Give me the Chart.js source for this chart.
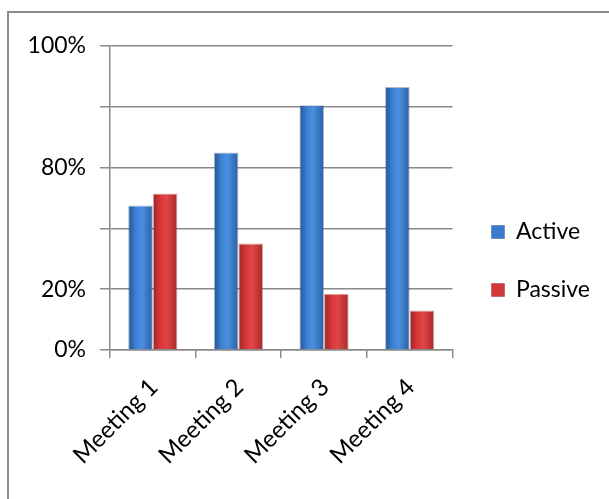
<!DOCTYPE html>
<html>
<head>
<meta charset="utf-8">
<script src="https://cdn.jsdelivr.net/npm/chart.js@4"></script>
<style>
  html, body { margin: 0; padding: 0; background: #fff; overflow: hidden; width: 609px; height: 499px; }
  #frame { position: absolute; left: 7px; top: 11px; width: 700px; height: 600px; border: 2px solid #8c8c8c; box-sizing: border-box; }
  #wrap { position: absolute; left: 0; top: 0; width: 609px; height: 499px; }
</style>
</head>
<body>
<div id="frame"></div>
<div id="wrap"><canvas id="c"></canvas></div>
<script>
const categories = ['Meeting 1', 'Meeting 2', 'Meeting 3', 'Meeting 4'];
const activeValues = [47.5, 65, 80.5, 86.5];
const passiveValues = [51.5, 35, 18.5, 13];
const yTickLabels = ['0%', '20%', '', '80%', '', '100%'];

const gridColor = '#8a8a8a';
const labelFont = { family: 'Lato', size: 23 };

// Cylinder-like shading: darker edges, lighter middle of each bar
const barShading = {
  id: 'barShading',
  beforeDatasetsDraw(chart) {
    const ctx = chart.ctx;
    const palettes = [
      ['#24538f', '#3c80d4', '#4a90e0', '#2b5fa3'],
      ['#9a2424', '#d63838', '#e24545', '#a82a2a']
    ];
    chart.data.datasets.forEach((ds, di) => {
      const meta = chart.getDatasetMeta(di);
      const p = palettes[di];
      meta.data.forEach(el => {
        const half = el.width / 2;
        const g = ctx.createLinearGradient(el.x - half, 0, el.x + half, 0);
        g.addColorStop(0, p[0]);
        g.addColorStop(0.3, p[1]);
        g.addColorStop(0.55, p[2]);
        g.addColorStop(1, p[3]);
        // give each bar its own options object so the gradients are not shared
        el.options = Object.assign({}, el.options, { backgroundColor: g });
      });
    });
  }
};

// leave a little air between the plot and the legend
const legendGap = {
  id: 'legendGap',
  afterLayout(chart) {
    const lg = chart.legend;
    if (lg) { lg.left += 4; lg.right += 4; }
  }
};

new Chart(document.getElementById('c'), {
  type: 'bar',
  data: {
    labels: categories,
    datasets: [
      { label: 'Active', data: activeValues, backgroundColor: '#3a7bd0', borderColor: 'rgba(30,60,110,0.35)', borderWidth: 1 },
      { label: 'Passive', data: passiveValues, backgroundColor: '#d23838', borderColor: 'rgba(110,20,20,0.35)', borderWidth: 1 }
    ]
  },
  options: {
    responsive: true,
    maintainAspectRatio: false,
    animation: false,
    devicePixelRatio: 1,
    categoryPercentage: 0.575,
    barPercentage: 1,
    layout: { padding: { top: 46, bottom: 23, left: 0, right: 13 } },
    plugins: {
      tooltip: { enabled: false },
      legend: {
        position: 'right',
        labels: { boxWidth: 13, boxHeight: 13, padding: 35, font: labelFont, color: '#000' }
      }
    },
    scales: {
      x: {
        grid: { offset: true, drawOnChartArea: false, tickLength: 8, color: gridColor, lineWidth: 1.5 },
        border: { color: gridColor, width: 1.5 },
        ticks: { font: { family: 'Lato', size: 24 }, color: '#000', minRotation: 45, maxRotation: 45, padding: 15, labelOffset: 1 },
        afterFit(s) { s.height = 126; }
      },
      y: {
        min: 0,
        max: 100,
        grid: { tickLength: 10, color: gridColor, lineWidth: 1.5 },
        border: { color: gridColor, width: 1.5 },
        ticks: {
          stepSize: 20,
          padding: 14,
          font: labelFont,
          color: '#000',
          callback: (v, i) => yTickLabels[i]
        },
        afterFit(s) { s.width = 110; }
      }
    }
  },
  plugins: [barShading, legendGap]
});
</script>
</body>
</html>
